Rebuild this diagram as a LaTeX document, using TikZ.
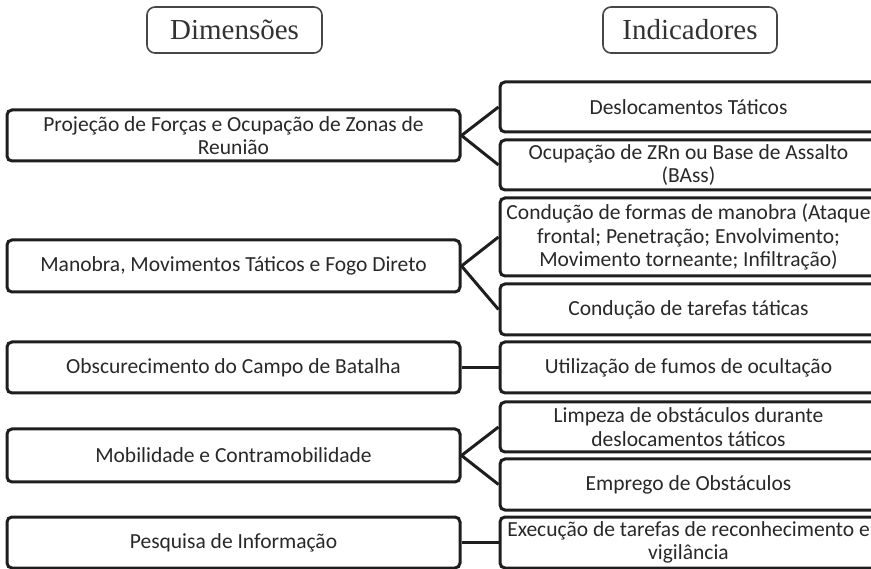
\documentclass[tikz,border=0pt]{standalone}
\usepackage{fontspec}
\setmainfont{Carlito}
\newfontfamily\hdrfont{Liberation Serif}
\usepackage{tikz}
\usetikzlibrary{positioning}
\definecolor{boxdark}{RGB}{30,30,30}
\definecolor{hdrgray}{RGB}{70,70,70}
\definecolor{hdrtext}{RGB}{50,50,50}
\definecolor{bodytext}{RGB}{40,40,40}
\tikzset{
  hdrbox/.style={rectangle, draw=hdrgray, line width=1.6pt, rounded corners=8pt,
    minimum width=175pt, minimum height=46pt, inner sep=0pt,
    text=hdrtext, font=\hdrfont\fontsize{29}{31}\selectfont},
  dimbox/.style={rectangle, draw=boxdark, line width=3pt, rounded corners=5pt,
    minimum width=453pt, inner sep=0pt, align=center, text=bodytext,
    font=\fontsize{21.5}{23.5}\selectfont},
  indbox/.style={dimbox, minimum width=377pt},
  link/.style={line width=3pt, color=boxdark}
}
\begin{document}
\begin{tikzpicture}[x=1pt, y=-1pt]
  \useasboundingbox (0,0) rectangle (871,569);
  \clip (0,0) rectangle (871,569);

  % Headers
  \node[hdrbox] (hdim) at (234.5,30) {Dimensões};
  \node[hdrbox, minimum width=174pt] (hind) at (690,30) {Indicadores};

  % Dimensions
  \node[dimbox, minimum height=51pt] (dproj) at (233.5,135.5) {Projeção de Forças e Ocupação de Zonas de\\Reunião};
  \node[dimbox, minimum height=52pt] (dman) at (233.5,266) {Manobra, Movimentos Táticos e Fogo Direto};
  \node[dimbox, minimum height=51pt] (dobs) at (233.5,367.5) {Obscurecimento do Campo de Batalha};
  \node[dimbox, minimum height=53pt] (dmob) at (233.5,455.5) {Mobilidade e Contramobilidade};
  \node[dimbox, minimum height=51pt] (dpesq) at (233.5,542.5) {Pesquisa de Informação};

  % Indicators
  \node[indbox, minimum height=50pt] (idesl) at (688.5,107) {Deslocamentos Táticos};
  \node[indbox, minimum height=50pt] (iocup) at (688.5,165) {Ocupação de ZRn ou Base de Assalto\\(BAss)};
  \node[indbox, minimum height=78pt] (iform) at (688.5,237) {Condução de formas de manobra (Ataque\\frontal; Penetração; Envolvimento;\\Movimento torneante; Infiltração)};
  \node[indbox, minimum height=51pt] (itaref) at (688.5,309.5) {Condução de tarefas táticas};
  \node[indbox, minimum height=51pt] (ifumo) at (688.5,367.5) {Utilização de fumos de ocultação};
  \node[indbox, minimum height=50pt] (ilimp) at (688.5,427) {Limpeza de obstáculos durante\\deslocamentos táticos};
  \node[indbox, minimum height=51pt] (iobst) at (688.5,484.5) {Emprego de Obstáculos};
  \node[indbox, minimum height=51pt] (ireco) at (688.5,542.5) {Execução de tarefas de reconhecimento e\\vigilância};

  % Links
  \draw[link] (idesl.west) -- (dproj.east) -- (iocup.west);
  \draw[link] (iform.west) -- (dman.east) -- (itaref.west);
  \draw[link] (dobs.east) -- (ifumo.west);
  \draw[link] (ilimp.west) -- (dmob.east) -- (iobst.west);
  \draw[link] (dpesq.east) -- (ireco.west);
\end{tikzpicture}
\end{document}
